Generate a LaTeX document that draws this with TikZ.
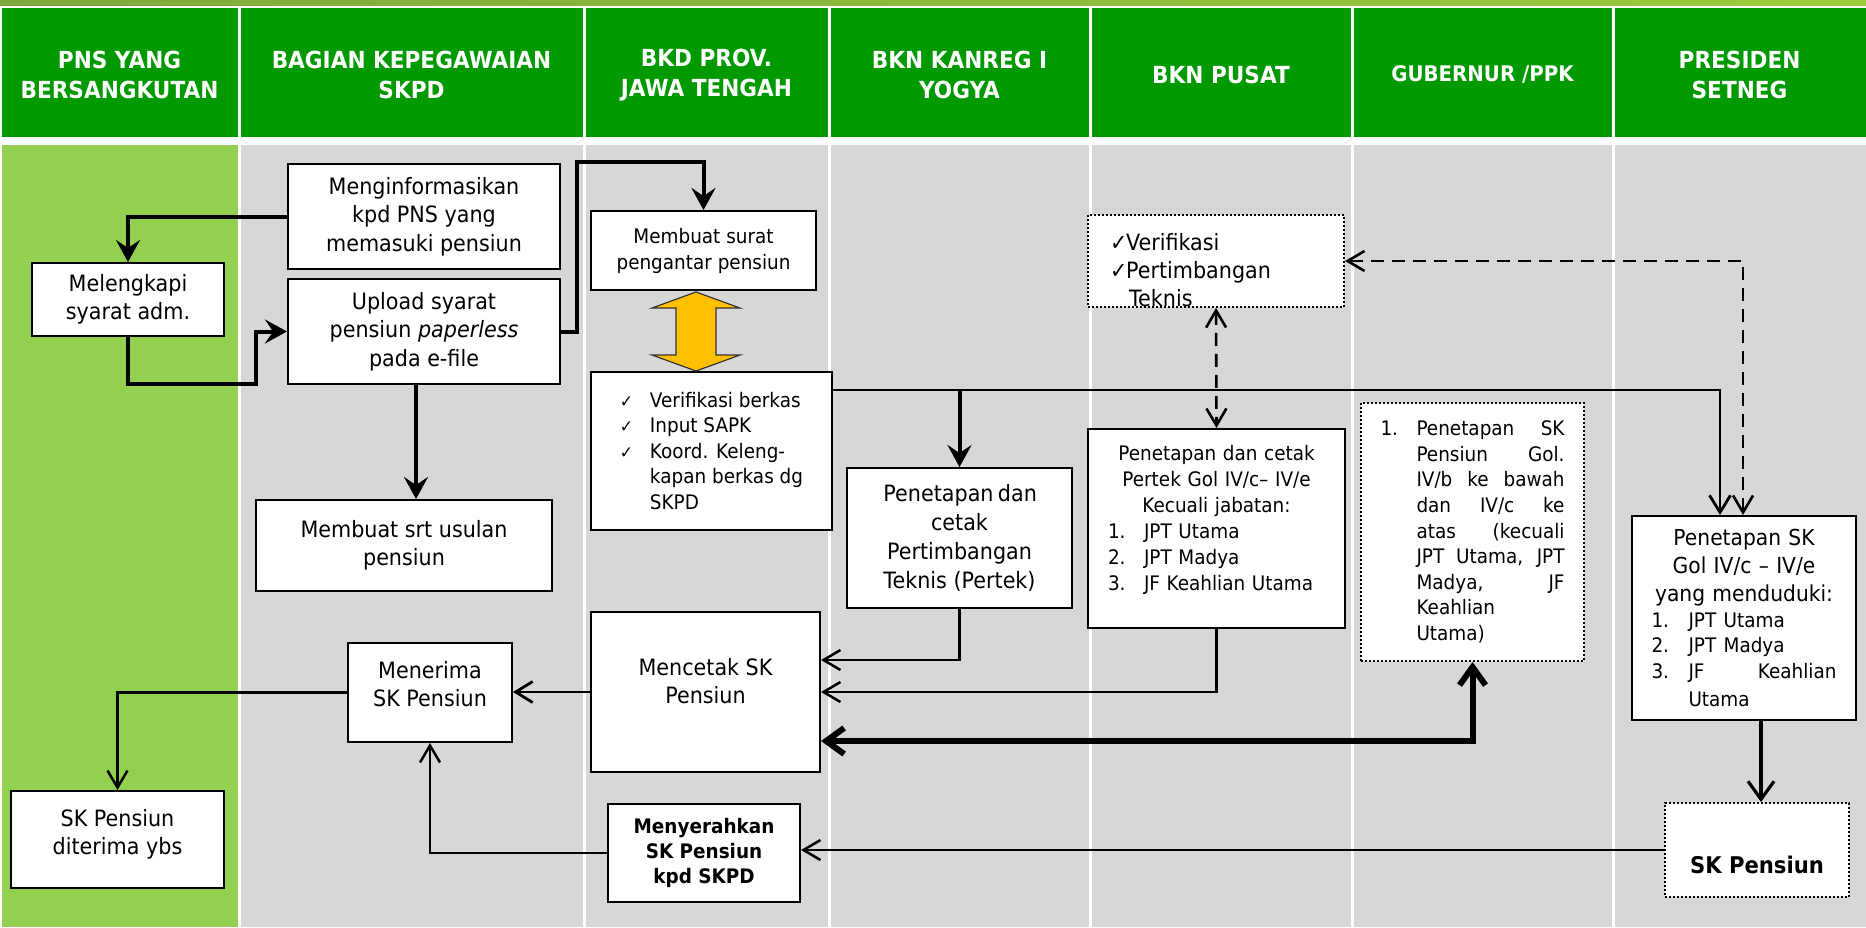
\documentclass[tikz,border=0pt]{standalone}
\usepackage{fontspec}
\setmainfont{DejaVu Sans}[FakeStretch=0.92]
\usetikzlibrary{arrows.meta,calc}
\definecolor{hdr}{HTML}{009900}
\definecolor{lgreen}{HTML}{92D050}
\definecolor{lgray}{HTML}{D7D7D7}
\definecolor{yel}{HTML}{FFC000}
\definecolor{stripL}{HTML}{7FA83A}
\definecolor{stripR}{HTML}{9BCD3B}
\newcommand\fs[2]{\fontsize{#1}{#2}\selectfont}
\newcommand\js[2]{\makebox[#1][s]{\spaceskip=0pt\xspaceskip=0pt\relax #2}}
\newlength\wtmp
\tikzset{
  box/.style={draw=black, fill=white, line width=1pt, inner sep=0pt, align=center},
  sz/.style 2 args={minimum width=#1*0.5pt, minimum height=#2*0.5pt},
  dotbox/.style={box, dash pattern=on 1pt off 1pt},
  hdrtext/.style={text=white, font=\bfseries\fs{11.75}{15}, align=center},
  main/.style={font=\fs{11.25}{14.25}},
  thickarr/.style={line width=2pt, -{Stealth[length=11pt,width=12pt,inset=4pt]}},
  thinarr/.style={line width=1.25pt, -{Straight Barb[length=8.5pt,width=10pt]}},
  medarr/.style={line width=1.4pt, -{Straight Barb[length=8.5pt,width=10.5pt]}},
  medarrb/.style={line width=1.6pt, -{Straight Barb[length=9pt,width=13pt]}},
  dasharr/.style={line width=1.3pt, dash pattern=on 6.5pt off 4pt,
     {Straight Barb[length=8.5pt,width=10pt]}-{Straight Barb[length=8.5pt,width=10pt]}},
  dblarr/.style={line width=3pt,
     {Straight Barb[length=9pt,width=13pt]}-{Straight Barb[length=9pt,width=13pt]}}
}
\begin{document}
\begin{tikzpicture}[x=0.5pt,y=-0.5pt]
\useasboundingbox (0,0) rectangle (1866,927);
\fill[white] (0,0) rectangle (1866,927);
\shade[left color=stripL, right color=stripR] (0,0) rectangle (1866,5);
\foreach \a/\b in {1.5/237.5, 240.5/582.5, 585.5/827.5, 830.5/1088.5, 1091.5/1350.5, 1353.5/1611.5, 1614.5/1866}{
  \fill[hdr] (\a,8) rectangle (\b,137);
}
\fill[lgreen] (1.5,145) rectangle (237.5,927);
\foreach \a/\b in {240.5/582.5, 585.5/827.5, 830.5/1088.5, 1091.5/1350.5, 1353.5/1611.5, 1614.5/1866}{
  \fill[lgray] (\a,145) rectangle (\b,927);
}
% header texts
\node[hdrtext] (h1) at (119.5,75) {PNS YANG\\BERSANGKUTAN};
\node[hdrtext] (h2) at (411.5,75) {BAGIAN KEPEGAWAIAN\\SKPD};
\node[hdrtext] (h3) at (706.5,75) {BKD PROV.\\JAWA TENGAH};
\node[hdrtext] (h4) at (959.5,75) {BKN KANREG I\\YOGYA};
\node[hdrtext] (h5) at (1221,75) {BKN PUSAT};
\node[hdrtext, font=\bfseries\fs{10.75}{15}] (h6) at (1482.5,75) {GUBERNUR /PPK};
\node[hdrtext] (h7) at (1739.5,75) {PRESIDEN\\SETNEG};

% boxes
\node[box, main, sz={272}{105}] (mengin) at (424,216.5) {Menginformasikan\\kpd PNS yang\\memasuki pensiun};
\node[box, main, sz={192}{73}] (melengk) at (128,299.5) {Melengkapi\\syarat adm.};
\node[box, main, sz={272}{105}] (upload) at (424,331.5) {Upload syarat\\pensiun \textit{paperless}\\pada e-file};
\node[box, main, sz={296}{91}] (usulan) at (404,545.5) {Membuat srt usulan\\pensiun};
\node[box, font=\fs{10}{13}, sz={225}{79}] (surat) at (703.5,250.5) {Membuat surat\\pengantar pensiun};
\node[box, font=\fs{10}{12.75}, align=left, sz={241}{158}] (verif) at (711.5,451)
  {\makebox[15pt][l]{\fs{8.5}{10}✓}Verifikasi berkas\\
   \makebox[15pt][l]{\fs{8.5}{10}✓}Input SAPK\\
   \makebox[15pt][l]{\fs{8.5}{10}✓}Koord. Keleng-\\
   \hspace*{15pt}kapan berkas dg\\
   \hspace*{15pt}SKPD};
\node[box, font=\fs{11.25}{14.5}, sz={225}{140}] (pertek1) at (959.5,538)
  {\settowidth\wtmp{Teknis (Pertek)}\js{\wtmp}{Penetapan dan}\\cetak\\Pertimbangan\\Teknis (Pertek)};
\node[box, main, sz={229}{160}] (mencetak) at (705.5,692) {Mencetak SK\\Pensiun\rule[-11pt]{0pt}{0pt}};
\node[box, main, sz={164}{99}] (menerima) at (430,692.5) {Menerima\\SK Pensiun\rule[-8.5pt]{0pt}{0pt}};
\node[box, main, sz={213}{97}] (diterima) at (117.5,839.5) {SK Pensiun\\diterima ybs\rule[-7.5pt]{0pt}{0pt}};
\node[box, font=\bfseries\fs{10}{12.5}, sz={192}{98}] (serah) at (704,853) {Menyerahkan\\SK Pensiun\\kpd SKPD};
\node[dotbox, font=\fs{11.25}{14}, text width=106pt, align=left, sz={256}{92}] (verifdot) at (1216,261)
  {\rule{0pt}{17.5pt}\makebox[8pt][l]{✓}Verifikasi\\\makebox[8pt][l]{✓}Pertimbangan\\\hspace*{9.5pt}Teknis};
\node[box, font=\fs{10}{13}, text width=108.5pt, align=left, sz={257}{199}] (pertek2) at (1216.5,528.5)
  {\makebox[108.5pt]{Penetapan dan cetak}\\
   \makebox[108.5pt]{Pertek Gol IV/c– IV/e}\\
   \makebox[108.5pt]{Kecuali jabatan:}\\
   \makebox[18pt][l]{1.}JPT Utama\\
   \makebox[18pt][l]{2.}JPT Madya\\
   \makebox[18pt][l]{3.}JF Keahlian Utama\rule[-11pt]{0pt}{0pt}};
\node[dotbox, font=\fs{10}{12.8}, text width=92pt, align=left, sz={223}{258}] (gub) at (1472.5,532)
  {\makebox[18pt][l]{1.}\js{74pt}{Penetapan SK}\\
   \hspace*{18pt}\js{74pt}{Pensiun Gol.}\\
   \hspace*{18pt}\js{74pt}{IV/b ke bawah}\\
   \hspace*{18pt}\js{74pt}{dan IV/c ke}\\
   \hspace*{18pt}\js{74pt}{atas (kecuali}\\
   \hspace*{18pt}\js{74pt}{JPT Utama, JPT}\\
   \hspace*{18pt}\js{74pt}{Madya, JF}\\
   \hspace*{18pt}Keahlian\\
   \hspace*{18pt}Utama)};
\node[box, font=\fs{11}{14}, text width=92.5pt, align=left, sz={224}{204}] (sk) at (1744,618)
  {\makebox[92.5pt]{Penetapan SK}\\
   \makebox[92.5pt]{Gol IV/c – IV/e}\\
   \makebox[92.5pt]{yang menduduki:}\par
   \fs{10}{12.85}\makebox[18.5pt][l]{1.}JPT Utama\\
   \makebox[18.5pt][l]{2.}JPT Madya\\
   \makebox[18.5pt][l]{3.}\js{74pt}{JF Keahlian}\\
   \hspace*{18.5pt}Utama};
\node[dotbox, font=\bfseries\fs{11.5}{14}, sz={184}{94}] (skpens) at (1757,850) {\rule{0pt}{23.5pt}SK Pensiun};

% yellow double arrow
\draw[line width=0.6pt, draw=black!80, fill=yel] (696,292) -- (740,308) -- (716,308) -- (716,355) -- (740,355)
  -- (696,371) -- (652,355) -- (676,355) -- (676,308) -- (652,308) -- cycle;

% connectors
\draw[thickarr] (mengin.west) -| (melengk.north);
\draw[thickarr] (melengk.south) -- ++(0,47) -- ++(128,0) |- (upload.west);
\draw[thickarr] (upload.east) -- ++(16,0) |- ([yshift=24pt]surat.north) -- (surat.north);
\coordinate (dtop) at ($(upload.south)+(-8,0)$);
\draw[thickarr] (dtop) -- (dtop |- usulan.north);
\coordinate (vout) at ($(verif.north east)+(0,19)$);
\draw[medarr] (vout) -| ($(sk.north)+(-24,0)$);
\draw[thickarr] (pertek1.north |- vout) -- (pertek1.north);
\draw[dasharr] (verifdot.south) -- (pertek2.north);
\draw[dasharr] ($(sk.north)+(-1,0)$) |- (verifdot.east);
\draw[thinarr] (pertek1.south) |- ([yshift=16pt]mencetak.east);
\draw[thinarr] (pertek2.south) |- (mencetak.east);
\draw[dblarr] ([yshift=-24.5pt]mencetak.east) -| (gub.south);
\draw[medarr] (mencetak.west) -- (mencetak.west -| menerima.east);
\draw[thinarr] (menerima.west) -| (diterima.north);
\draw[thinarr] (serah.west) -| (menerima.south);
\coordinate (skout) at ($(sk.south)+(17,0)$);
\draw[medarrb] (skout) -- (skout |- skpens.north);
\draw[thinarr] (skpens.west) -- (skpens.west -| serah.east);
\end{tikzpicture}
\end{document}
